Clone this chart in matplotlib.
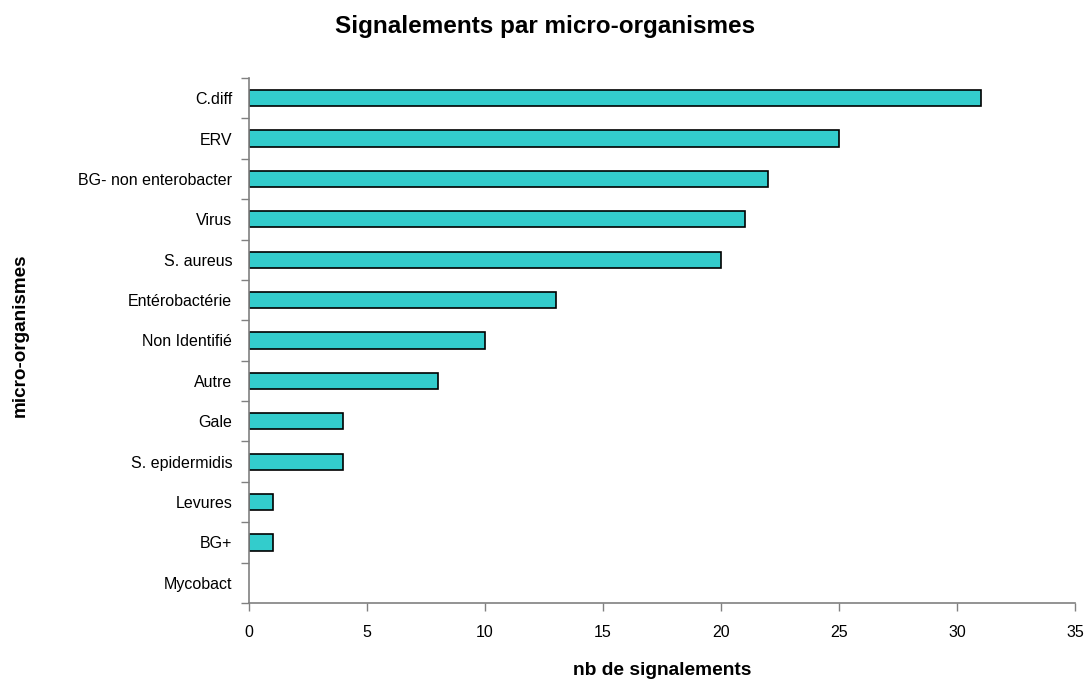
import matplotlib.pyplot as plt
import numpy as np

plt.rcParams['font.family'] = ['Liberation Sans', 'DejaVu Sans']

categories = ["C.diff", "ERV", "BG- non enterobacter", "Virus", "S. aureus",
              "Entérobactérie", "Non Identifié", "Autre", "Gale",
              "S. epidermidis", "Levures", "BG+", "Mycobact"]
values = [31, 25, 22, 21, 20, 13, 10, 8, 4, 4, 1, 1, 0]

fig = plt.figure(figsize=(10.86, 6.81), dpi=100)
ax = fig.add_axes([0.2293, 0.1145, 0.7606, 0.771])

n = len(categories)
y = np.arange(n)[::-1]
edges = ["black" if v > 0 else "none" for v in values]
ax.barh(y, values, height=0.4, color="#33CCCC", edgecolor=edges, linewidth=1.2)

ax.set_ylim(-0.5, n - 0.5)
ax.set_xlim(0, 35)
ax.set_xticks(np.arange(0, 36, 5))
ax.set_yticks(y)
ax.set_yticklabels(categories, fontsize=11.5)
ax.tick_params(axis='y', length=0, pad=12)
ax.set_yticks(np.arange(-0.5, n, 1), minor=True)
ax.tick_params(axis='y', which='minor', length=6, color='#808080', width=1)
ax.tick_params(axis='x', labelsize=11.5, length=6, color='#808080', width=1, pad=10)

for s in ['top', 'right']:
    ax.spines[s].set_visible(False)
for s in ['left', 'bottom']:
    ax.spines[s].set_color('#808080')
    ax.spines[s].set_linewidth(1.2)

fig.text(0.6096, 0.016, "nb de signalements", fontsize=13.8, fontweight='bold',
         ha='center', va='center')
fig.text(0.019, 0.507, "micro-organismes", fontsize=13.6, fontweight='bold',
         rotation=90, ha='center', va='center')
fig.text(0.502, 0.961, "Signalements par micro-organismes", fontsize=17.5,
         fontweight='bold', ha='center', va='center')

fig.savefig("out.png", dpi=100)
